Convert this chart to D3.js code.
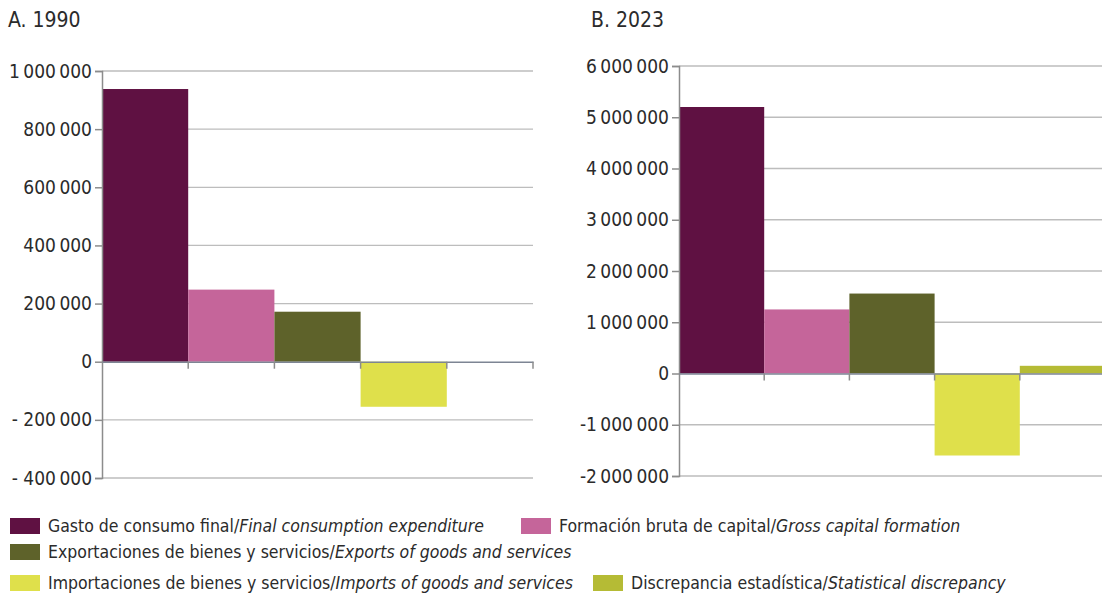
<!DOCTYPE html>
<html>
<head>
<meta charset="utf-8">
<script src="https://cdn.jsdelivr.net/npm/d3@7"></script>
<style>
  body { margin: 0; background: #fff; }
  svg text { font-family: "Liberation Sans Narrow", "DejaVu Sans Condensed", sans-serif; fill: #2b2b2b; }
</style>
</head>
<body>
<svg id="chart" width="1102" height="596"></svg>
<script>
// Components of GDP, two years
const categoriesEs = ['Gasto de consumo final', 'Formación bruta de capital', 'Exportaciones de bienes y servicios',
    'Importaciones de bienes y servicios', 'Discrepancia estadística'];
const categoriesEn = ['Final consumption expenditure', 'Gross capital formation', 'Exports of goods and services',
    'Imports of goods and services', 'Statistical discrepancy'];
const colors = ['#5f1142', '#c5659a', '#5e622a', '#dfe04b', '#b5bb35'];

const values1990 = [938000, 248000, 172000, -155000, 0];
const values2023 = [5200000, 1250000, 1560000, -1600000, 150000];

const ticks1990 = [-400000, -200000, 0, 200000, 400000, 600000, 800000, 1000000];
const ticks2023 = [-2000000, -1000000, 0, 1000000, 2000000, 3000000, 4000000, 5000000, 6000000];

const svg = d3.select('#chart');

// thousands with (thin) spaces
function spaced(v) {
    return Math.abs(v).toString().replace(/\B(?=(\d{3})+(?!\d))/g, '\u2009');
}

function drawPanel(opts) {
    const g = svg.append('g');
    const x = d3.scaleBand().domain(d3.range(5)).range([opts.x0, opts.x1]).padding(0);
    const y = d3.scaleLinear().domain(opts.domain).range([opts.y1, opts.y0]);

    g.append('text')
        .attr('x', opts.titleX).attr('y', 27)
        .attr('font-size', 21)
        .text(opts.title);

    // gridlines
    g.selectAll('line.grid')
        .data(opts.ticks.filter(t => t !== 0))
        .enter().append('line')
        .attr('x1', opts.x0).attr('x2', opts.x1)
        .attr('y1', d => y(d)).attr('y2', d => y(d))
        .attr('stroke', '#bdbdbd').attr('stroke-width', 1.3);

    // bars
    g.selectAll('rect.bar')
        .data(opts.values)
        .enter().append('rect')
        .attr('x', (d, i) => x(i))
        .attr('width', x.bandwidth())
        .attr('y', d => y(Math.max(0, d)))
        .attr('height', d => Math.abs(y(d) - y(0)))
        .attr('fill', (d, i) => colors[i]);

    // y axis
    const yAxis = d3.axisLeft(y)
        .tickValues(opts.ticks)
        .tickSize(7)
        .tickFormat(opts.format);
    const ya = g.append('g').attr('transform', `translate(${opts.x0},0)`).call(yAxis);
    ya.select('.domain').attr('stroke', '#8c8c8c').attr('stroke-width', 1.5);
    ya.selectAll('.tick line').attr('stroke', '#8c8c8c').attr('stroke-width', 1.5);
    ya.selectAll('.tick text')
        .attr('x', -10)
        .attr('font-size', 19)
        .attr('font-family', '"Liberation Sans Narrow", "DejaVu Sans Condensed", sans-serif')
        .attr('fill', '#2b2b2b');

    // category axis at zero
    const xAxis = d3.axisBottom(x).tickSize(0).tickFormat('');
    const xa = g.append('g').attr('transform', `translate(0,${y(0)})`).call(xAxis);
    xa.select('.domain').attr('stroke', '#7d8594').attr('stroke-width', 1.5);
    g.selectAll('line.sep')
        .data(d3.range(1, 6))
        .enter().append('line')
        .attr('x1', i => x(i - 1) + x.bandwidth()).attr('x2', i => x(i - 1) + x.bandwidth())
        .attr('y1', y(0)).attr('y2', y(0) + 7)
        .attr('stroke', '#8c8c8c').attr('stroke-width', 1.5);
}

drawPanel({
    title: 'A. 1990', titleX: 8,
    x0: 102, x1: 533, y0: 71, y1: 478,
    domain: [-400000, 1000000],
    ticks: ticks1990, values: values1990,
    format: d => d < 0 ? '- ' + spaced(d) : spaced(d)
});

drawPanel({
    title: 'B. 2023', titleX: 591,
    x0: 679, x1: 1105, y0: 66, y1: 476,
    domain: [-2000000, 6000000],
    ticks: ticks2023, values: values2023,
    format: d => d < 0 ? '-' + spaced(d) : spaced(d)
});

// legend
const legendPos = [
    { x: 10, y: 518 }, { x: 521, y: 518 },
    { x: 10, y: 544 },
    { x: 10, y: 575 }, { x: 593, y: 575 }
];
const legend = svg.append('g');
const items = legend.selectAll('g.item')
    .data(d3.range(5))
    .enter().append('g')
    .attr('transform', i => `translate(${legendPos[i].x},${legendPos[i].y})`);
items.append('rect')
    .attr('width', 30).attr('height', 16)
    .attr('fill', i => colors[i]);
const t = items.append('text')
    .attr('x', 38)
    .attr('y', 14)
    .attr('font-size', 17.5);
t.append('tspan').text(i => categoriesEs[i] + '/');
t.append('tspan').attr('font-style', 'italic').text(i => categoriesEn[i]);
</script>
</body>
</html>
